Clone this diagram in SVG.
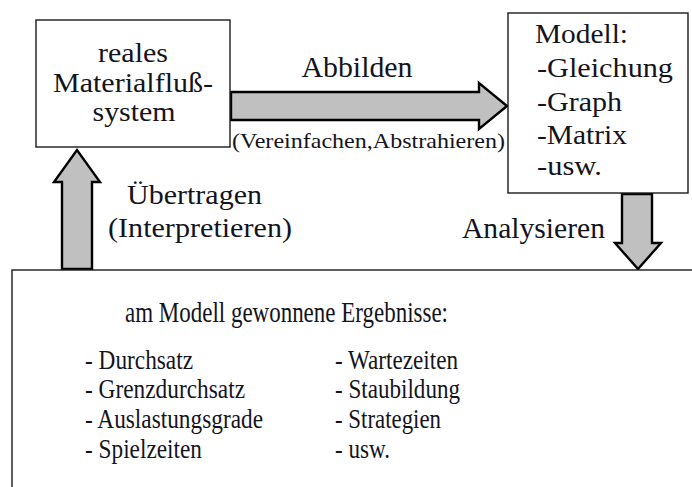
<svg xmlns="http://www.w3.org/2000/svg" width="692" height="487" viewBox="0 0 692 487">
<style>
  .box { fill: #ffffff; stroke: #1a1a1a; stroke-width: 1.4; }
  .arrow { fill: #c0c0c0; stroke: #000000; stroke-width: 2.4; stroke-linejoin: miter; }
  text { font-family: "Liberation Serif", "Times New Roman", serif; fill: #141420; }
  .t30 { font-size: 30px; }
  .t28 { font-size: 28px; }
  .t29 { font-size: 29px; }
  .tb { font-size: 29px; }
  .t22 { font-size: 22px; }
</style>
<rect width="692" height="487" fill="#ffffff"/>
<g id="connectors">
  <g id="arrow-abbilden">
    <polygon class="arrow" points="231,92 479,92 479,83 507,106 479,129 479,120 231,120"/>
    <text class="t30" x="357" y="77" text-anchor="middle" textLength="111" lengthAdjust="spacingAndGlyphs">Abbilden</text>
    <text class="t22" x="232" y="148" textLength="273" lengthAdjust="spacingAndGlyphs">(Vereinfachen,Abstrahieren)</text>
  </g>
  <g id="arrow-analysieren">
    <polygon class="arrow" points="622,194 652,194 652,243 661,243 638,269 615,243 622,243"/>
    <text class="t29" x="462" y="238" textLength="143" lengthAdjust="spacingAndGlyphs">Analysieren</text>
  </g>
  <g id="arrow-uebertragen">
    <polygon class="arrow" points="62,269 62,182 54,182 77,150 100,182 92,182 92,269"/>
    <text class="t28" x="127" y="204" textLength="135" lengthAdjust="spacingAndGlyphs">Übertragen</text>
    <text class="t28" x="108" y="237" textLength="184" lengthAdjust="spacingAndGlyphs">(Interpretieren)</text>
  </g>
</g>
<g id="node-real">
  <rect class="box" x="36" y="20" width="194" height="127"/>
  <text class="t28" x="133" y="62" text-anchor="middle" textLength="70" lengthAdjust="spacingAndGlyphs">reales</text>
  <text class="t28" x="133" y="92" text-anchor="middle" textLength="160" lengthAdjust="spacingAndGlyphs">Materialfluß-</text>
  <text class="t28" x="134" y="121" text-anchor="middle" textLength="83" lengthAdjust="spacingAndGlyphs">system</text>
</g>
<g id="node-modell">
  <rect class="box" x="508" y="13" width="180" height="180"/>
  <text class="t28" x="535" y="43" textLength="93" lengthAdjust="spacingAndGlyphs">Modell:</text>
  <text class="t28" x="537" y="77" textLength="136" lengthAdjust="spacingAndGlyphs">-Gleichung</text>
  <text class="t28" x="537" y="111" textLength="85" lengthAdjust="spacingAndGlyphs">-Graph</text>
  <text class="t28" x="537" y="144" textLength="90" lengthAdjust="spacingAndGlyphs">-Matrix</text>
  <text class="t28" x="537" y="175" textLength="65" lengthAdjust="spacingAndGlyphs">-usw.</text>
</g>
<g id="node-ergebnisse">
  <rect class="box" x="12" y="270" width="700" height="240"/>
  <text class="tb" x="125" y="322" textLength="323" lengthAdjust="spacingAndGlyphs">am Modell gewonnene Ergebnisse:</text>
  <text class="t28" x="85" y="369" textLength="108" lengthAdjust="spacingAndGlyphs">- Durchsatz</text>
  <text class="t28" x="85" y="398" textLength="160" lengthAdjust="spacingAndGlyphs">- Grenzdurchsatz</text>
  <text class="t28" x="85" y="428" textLength="178" lengthAdjust="spacingAndGlyphs">- Auslastungsgrade</text>
  <text class="t28" x="85" y="458" textLength="117" lengthAdjust="spacingAndGlyphs">- Spielzeiten</text>
  <text class="t28" x="335" y="369" textLength="123" lengthAdjust="spacingAndGlyphs">- Wartezeiten</text>
  <text class="t28" x="335" y="398" textLength="125" lengthAdjust="spacingAndGlyphs">- Staubildung</text>
  <text class="t28" x="335" y="428" textLength="106" lengthAdjust="spacingAndGlyphs">- Strategien</text>
  <text class="t28" x="335" y="458" textLength="55" lengthAdjust="spacingAndGlyphs">- usw.</text>
</g>
</svg>
